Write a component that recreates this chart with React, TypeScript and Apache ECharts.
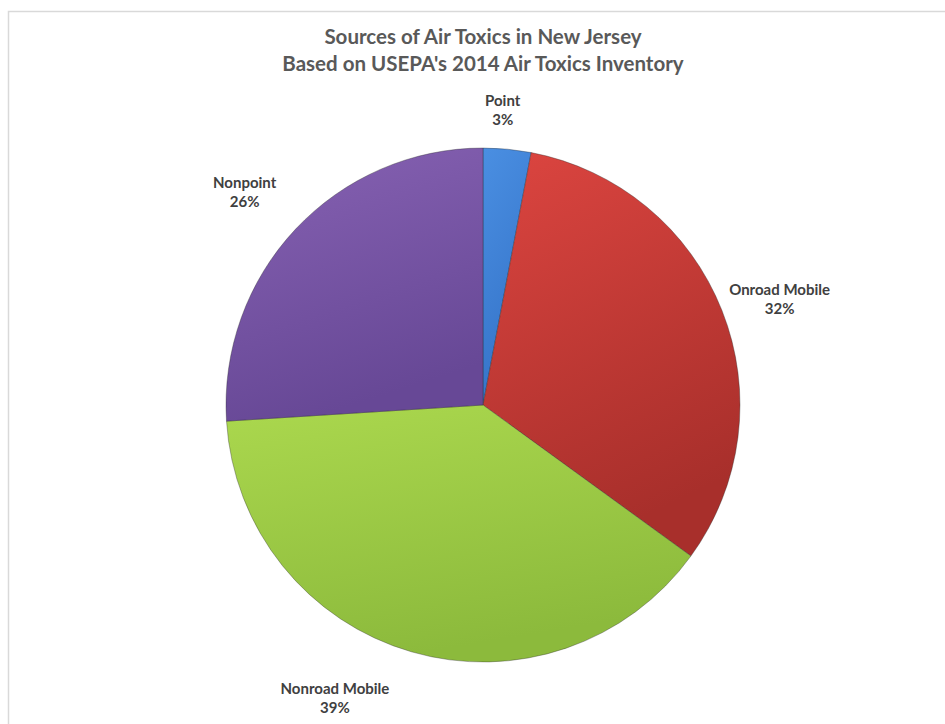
import React, { useEffect, useRef } from "react";
import * as echarts from "echarts";

const titleLines = ["Sources of Air Toxics in New Jersey", "Based on USEPA's 2014 Air Toxics Inventory"];
const categories = ["Point", "Onroad Mobile", "Nonroad Mobile", "Nonpoint"];
const values = [3, 32, 39, 26];
const topColors = ["#4a8fe2", "#dc4540", "#abd84e", "#8762b3"];
const bottomColors = ["#3573c8", "#a82f2b", "#8cba3c", "#674896"];
// label nudges (style only)
const labelNudgeX = [-14, 8, -58, -11];
const labelNudgeY = [8, 6, 0, -5];

export default function App() {
  const ref = useRef<HTMLDivElement>(null);
  useEffect(() => {
    document.body.style.margin = "0";
    const chart = echarts.init(ref.current!, null, { renderer: "svg" });
    const data = categories.map((name, i) => ({
      name,
      value: values[i],
      itemStyle: {
        color: new echarts.graphic.LinearGradient(0, 0, 0.3, 1, [
          { offset: 0, color: topColors[i] },
          { offset: 1, color: bottomColors[i] },
        ]),
      },
    }));
    chart.setOption({
      animation: false,
      backgroundColor: "#ffffff",
      graphic: [
        {
          type: "rect",
          shape: { x: 8.5, y: 11.5, width: 1000, height: 1000 },
          style: { fill: "none", stroke: "#d9d9d9", lineWidth: 1.5 },
          silent: true,
        },
      ],
      title: {
        text: titleLines.join("\n"),
        left: 478,
        top: 17,
        textAlign: "center",
        padding: 5,
        textStyle: {
          fontFamily: "Lato",
          fontWeight: "bold",
          fontSize: 20.5,
          color: "#595959",
          lineHeight: 27,
        },
      },
      series: [
        {
          type: "pie",
          center: [483, 405],
          radius: 257,
          startAngle: 90,
          clockwise: true,
          data,
          itemStyle: { borderColor: "rgba(40,40,40,0.35)", borderWidth: 1 },
          label: {
            show: true,
            position: "outside",
            formatter: (p: any) => `${p.name}\n${Math.round(p.percent)}%`,
            fontFamily: "Lato",
            fontWeight: "bold",
            fontSize: 15,
            lineHeight: 19,
            color: "#404040",
            align: "center",
          },
          labelLine: { show: false, length: 48, length2: 0 },
          labelLayout: (p: any) => ({
            align: "center",
            verticalAlign: "middle",
            dx: labelNudgeX[p.dataIndex],
            dy: labelNudgeY[p.dataIndex],
          }),
          emphasis: { disabled: true },
        },
      ],
    });
    return () => chart.dispose();
  }, []);
  return <div ref={ref} style={{ width: 945, height: 724 }} />;
}
